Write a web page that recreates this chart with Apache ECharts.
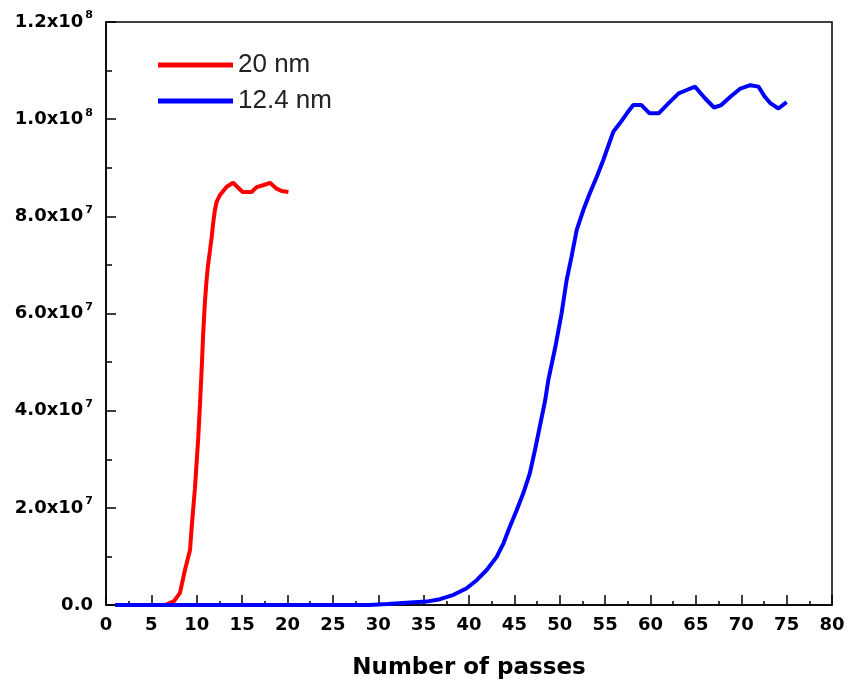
<!DOCTYPE html>
<html>
<head>
<meta charset="utf-8">
<script src="https://cdn.jsdelivr.net/npm/echarts@6/dist/echarts.min.js"></script>
<style>
html,body{margin:0;padding:0;background:#fff;}
#chart{width:851px;height:688px;}
</style>
</head>
<body>
<div id="chart"></div>
<script>
// ---- data ----
var seriesNames = ['20 nm', '12.4 nm'];
var redX = [1, 6.5, 7.5, 8.15, 8.7, 9.26, 9.44, 9.8, 10.17, 10.36, 10.54, 10.7, 10.9, 11.1, 11.25, 11.46, 11.65, 11.8, 12, 12.2, 12.56, 13.3, 14, 15.06, 16.05, 16.6, 17.3, 18.07, 18.8, 19.36, 20.1];
var redY = [0, 0, 0.8e6, 2.5e6, 7.2e6, 11.3e6, 16e6, 24e6, 34.6e6, 41.5e6, 48.4e6, 55.5e6, 62.4e6, 67.3e6, 70e6, 73e6, 75.8e6, 78.5e6, 81.3e6, 83e6, 84.4e6, 86.1e6, 86.9e6, 85e6, 85e6, 86e6, 86.4e6, 86.9e6, 85.7e6, 85.2e6, 85e6];
var blueX = [1, 29, 31, 33.5, 35.3, 36.8, 38.3, 39.7, 40.85, 41.95, 43.05, 43.8, 44.5, 45.25, 45.98, 46.7, 47.27, 47.8, 48.4, 48.74, 49.5, 50.2, 50.76, 51.3, 51.87, 52.6, 53.3, 54.07, 54.8, 55.5, 55.9, 56.6, 57.4, 58.1, 59.0, 59.9, 60.9, 62.0, 63.1, 64.0, 64.9, 66.0, 67.0, 67.8, 68.8, 69.9, 71.0, 71.9, 72.6, 73.2, 74.1, 75.0];
var blueY = [0, 0, 0.2e6, 0.5e6, 0.7e6, 1.2e6, 2.1e6, 3.4e6, 5.1e6, 7.2e6, 9.9e6, 12.7e6, 16.1e6, 19.5e6, 23e6, 27.1e6, 31.9e6, 36.7e6, 42.2e6, 46.3e6, 53e6, 60e6, 66.9e6, 71.7e6, 77.2e6, 81.3e6, 84.7e6, 88.1e6, 91.6e6, 95.3e6, 97.4e6, 99.1e6, 101.2e6, 102.9e6, 102.9e6, 101.2e6, 101.2e6, 103.3e6, 105.3e6, 106e6, 106.7e6, 104.3e6, 102.4e6, 102.9e6, 104.6e6, 106.3e6, 107e6, 106.7e6, 104.6e6, 103.3e6, 102.2e6, 103.5e6];
var yTicks = [0, 2e7, 4e7, 6e7, 8e7, 1e8, 1.2e8];
var yTickMain = ['0.0', '2.0x10', '4.0x10', '6.0x10', '8.0x10', '1.0x10', '1.2x10'];
var yTickExp = ['', '7', '7', '7', '7', '8', '8'];
var xAxisTitle = 'Number of passes';

function pairs(xs, ys) { return xs.map(function (x, i) { return [x, ys[i]]; }); }

var chart = echarts.init(document.getElementById('chart'), null, {renderer: 'canvas'});
var labelFont = 'DejaVu Sans';
chart.setOption({
  animation: false,
  backgroundColor: '#fff',
  grid: {left: 106, right: 19, top: 22, bottom: 83, show: true, borderColor: '#000', borderWidth: 1.5, backgroundColor: 'transparent'},
  legend: {
    orient: 'vertical', left: 153, top: 47,
    icon: 'rect',
    itemWidth: 75, itemHeight: 5, itemGap: 10,
    data: seriesNames,
    textStyle: {fontFamily: 'Liberation Sans', fontSize: 26, color: '#222'}
  },
  xAxis: {
    type: 'value', min: 0, max: 80, interval: 5,
    name: xAxisTitle, nameLocation: 'middle', nameGap: 52,
    nameTextStyle: {fontFamily: labelFont, fontWeight: 'bold', fontSize: 23, color: '#000'},
    axisLine: {show: true, lineStyle: {color: '#000', width: 1.5}},
    axisTick: {show: true, inside: true, length: 10, lineStyle: {color: '#000', width: 1.5}},
    minorTick: {show: true, splitNumber: 2, length: 4, lineStyle: {color: '#000', width: 1.5}},
    splitLine: {show: false},
    axisLabel: {margin: 11, fontFamily: labelFont, fontWeight: 'bold', fontSize: 18, color: '#000'}
  },
  yAxis: {
    type: 'value', min: 0, max: 1.2e8, interval: 2e7,
    axisLine: {show: true, lineStyle: {color: '#000', width: 1.5}},
    axisTick: {show: true, inside: true, length: 10, lineStyle: {color: '#000', width: 1.5}},
    minorTick: {show: true, splitNumber: 2, length: 6, lineStyle: {color: '#000', width: 1.5}},
    splitLine: {show: false},
    axisLabel: {
      margin: 13,
      formatter: function (v) {
        var i = yTicks.indexOf(v);
        if (i < 0) return '';
        return yTickExp[i] ? '{m|' + yTickMain[i] + '}{s|' + yTickExp[i] + '}' : '{m|' + yTickMain[i] + '}';
      },
      rich: {
        m: {fontFamily: labelFont, fontWeight: 'bold', fontSize: 18, color: '#000'},
        s: {fontFamily: labelFont, fontWeight: 'bold', fontSize: 11, color: '#000', padding: [0, 0, 13, 2]}
      }
    }
  },
  series: [
    {name: seriesNames[0], type: 'line', data: pairs(redX, redY), symbol: 'none', color: '#ff0000', lineStyle: {width: 4, color: '#ff0000'}},
    {name: seriesNames[1], type: 'line', data: pairs(blueX, blueY), symbol: 'none', color: '#0000ff', lineStyle: {width: 4, color: '#0000ff'}}
  ]
});
</script>
</body>
</html>
